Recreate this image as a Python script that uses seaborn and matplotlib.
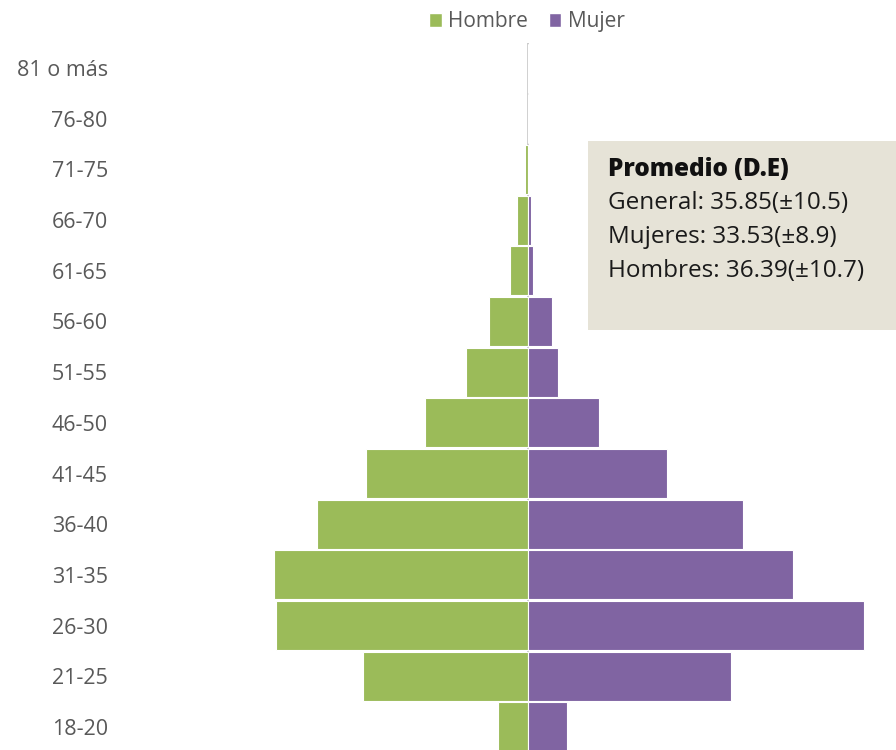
import matplotlib
matplotlib.use("Agg")
import matplotlib.pyplot as plt
from matplotlib.patches import Rectangle, Patch
import pandas as pd
import seaborn as sns

sns.set_theme(style="white")
plt.rcParams["font.family"] = ["Open Sans", "DejaVu Sans"]

GREEN = "#9BBB59"
PURPLE = "#8064A2"
GRAY_TXT = "#595959"

# age groups, top to bottom
grupos = ["81 o más", "76-80", "71-75", "66-70", "61-65", "56-60", "51-55",
          "46-50", "41-45", "36-40", "31-35", "26-30", "21-25", "18-20"]
hombre = [0, 0, 3, 11, 18, 39, 62, 103, 162, 211, 254, 252, 165, 30]
mujer = [0, 0, 0, 3, 5, 24, 30, 71, 139, 215, 265, 336, 203, 39]

df = pd.DataFrame({"grupo": grupos,
                   "Hombre": [-v for v in hombre],
                   "Mujer": mujer})

fig = plt.figure(figsize=(8.96, 7.5), dpi=100)
ax = fig.add_axes([130 / 896, -0.003, 766 / 896, 0.946])

ax.axvline(0, color="#c4c4c4", lw=1.2, zorder=0)
sns.barplot(data=df, y="grupo", x="Hombre", order=grupos, color=GREEN,
            saturation=1, width=0.97, edgecolor="white", linewidth=0.8,
            ax=ax, zorder=2)
sns.barplot(data=df, y="grupo", x="Mujer", order=grupos, color=PURPLE,
            saturation=1, width=0.97, edgecolor="white", linewidth=0.8,
            ax=ax, zorder=2)

ax.set_xlim(-398, 368)
ax.set_ylim(len(grupos) - 0.5, -0.5)
ax.set_xlabel("")
ax.set_ylabel("")
ax.set_xticks([])
ax.tick_params(axis="y", length=0, pad=16, labelsize=15.5, labelcolor=GRAY_TXT)
sns.despine(ax=ax, left=True, bottom=True)

handles = [Patch(facecolor=GREEN, label="Hombre"),
           Patch(facecolor=PURPLE, label="Mujer")]
fig.legend(handles=handles, loc="upper center", bbox_to_anchor=(527 / 896, 1.01),
           ncol=2, frameon=False, fontsize=15, handlelength=0.6, handleheight=0.6,
           handletextpad=0.3, columnspacing=1.0, labelcolor=GRAY_TXT)

# summary box
fig.add_artist(Rectangle((588 / 896, 1 - 330 / 750), 320 / 896, 189 / 750,
                         transform=fig.transFigure, facecolor="#E6E3D7",
                         edgecolor="none", zorder=3))
lineas = ["General: 35.85(±10.5)", "Mujeres: 33.53(±8.9)", "Hombres: 36.39(±10.7)"]
fig.text(608 / 896, 1 - 170 / 750, "Promedio (D.E)", fontsize=17.5,
         fontweight="heavy", color="#111111", va="center", zorder=4)
for i, t in enumerate(lineas):
    fig.text(608 / 896, 1 - (203 + 34 * i) / 750, t, fontsize=17.5,
             color="#1a1a1a", va="center", zorder=4)

fig.savefig("out.png", dpi=100)
